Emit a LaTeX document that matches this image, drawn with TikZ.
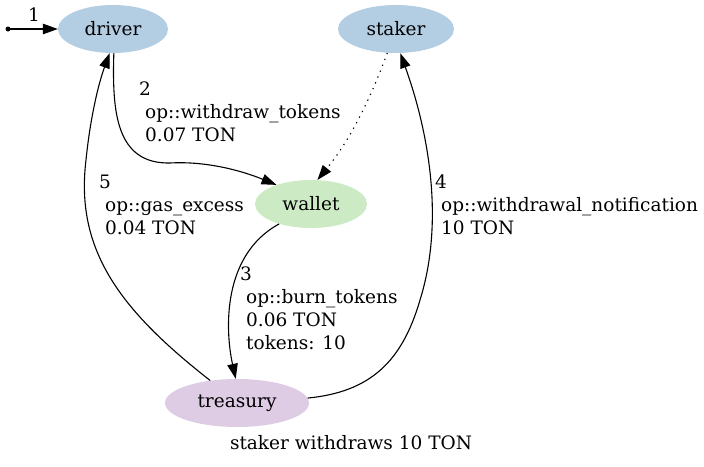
\documentclass[tikz,border=0pt]{standalone}
\usepackage{fontspec}
\setmainfont{DejaVu Serif}
\usetikzlibrary{arrows.meta,shapes.geometric}
\definecolor{cblue}{HTML}{B3CDE3}
\definecolor{cgreen}{HTML}{CCEBC5}
\definecolor{cpurple}{HTML}{DECBE4}
\begin{document}
\begin{tikzpicture}[x=1pt,y=-1pt,
  every node/.style={font=\fontsize{18.5}{23}\selectfont},
  ent/.style={ellipse, draw=none, inner sep=0pt},
  lbl/.style={anchor=base west, inner sep=0pt},
  edge/.style={line width=1.1pt, -{Triangle[length=15pt,width=10.5pt]}},
  dots/.style={dash pattern=on 1.3pt off 5pt},
  ]
\useasboundingbox (0,0) rectangle (704,466);
\node[ent, fill=cblue, minimum width=110pt, minimum height=48pt] (driver) at (113,29) {driver};
\node[ent, fill=cblue, minimum width=116pt, minimum height=48pt] (staker) at (396,29) {staker};
\node[ent, fill=cgreen, minimum width=112pt, minimum height=48pt] (wallet) at (311,204) {wallet};
\node[ent, fill=cpurple, minimum width=144pt, minimum height=48pt] (treasury) at (237,403) {treasury};
\fill (8,29) circle (2.5pt);
\coordinate (s0) at (8,29);
% edge 1
\draw[edge] (s0) -- (driver.west);
\node[lbl] (l1) at (28,21) {1};
% edge 2
\draw[edge] (driver.272) .. controls (112,112) and (116,164) .. (170,163)
  .. controls (205,161) and (240,170) .. (wallet.151);
\node[lbl] (l2a) at (139,95) {2};
\node[lbl] (l2b) at (145,118) {op::withdraw\_tokens};
\node[lbl] (l2c) at (145,141) {0.07 TON};
% dotted
\draw[edge, dots] (staker.250) .. controls (370,100) and (350,140) .. (wallet.75);
% edge 3
\draw[edge] (wallet.212) .. controls (222,255) and (225,330) .. (treasury.93);
\node[lbl] (l3a) at (240,280) {3};
\node[lbl] (l3b) at (246,303) {op::burn\_tokens};
\node[lbl] (l3c) at (246,326) {0.06 TON};
\node[lbl] (l3d) at (246,349) {tokens: 10};
% edge 4
\draw[edge] (treasury.4) .. controls (370,392) and (402,362) .. (420,300)
  .. controls (445,220) and (428,130) .. (staker.280);
\node[lbl] (l4a) at (435,188) {4};
\node[lbl] (l4b) at (441,211) {op::withdrawal\_notification};
\node[lbl] (l4c) at (441,234) {10 TON};
% edge 5
\draw[edge] (treasury.140) .. controls (120,310) and (75,250) .. (86,160)
  .. controls (90,120) and (98,85) .. (driver.262);
\node[lbl] (l5a) at (99,188) {5};
\node[lbl] (l5b) at (105,211) {op::gas\_excess};
\node[lbl] (l5c) at (105,234) {0.04 TON};
% caption
\node[anchor=base] (cap) at (351,449) {staker withdraws 10 TON};
\end{tikzpicture}
\end{document}
